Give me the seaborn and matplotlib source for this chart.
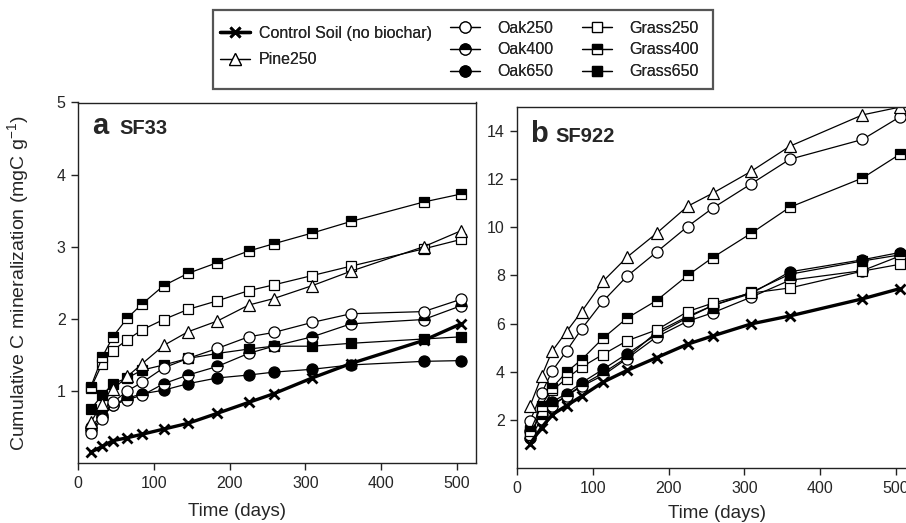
import matplotlib
matplotlib.use("Agg")
import matplotlib.pyplot as plt
import seaborn as sns
import pandas as pd
from matplotlib.lines import Line2D
from matplotlib.patches import Rectangle

sns.set_theme(style="white")
plt.rcParams['font.family'] = ['Liberation Sans', 'DejaVu Sans']
plt.rcParams['mathtext.default'] = 'regular'

# ---------------- data ----------------
times = [17, 32, 46, 65, 85, 113, 145, 184, 225, 258, 309, 360, 456, 505]

series_names = ["Control Soil (no biochar)", "Pine250", "Oak250", "Oak400", "Oak650",
                "Grass250", "Grass400", "Grass650"]

# Panel a: SF33
control_a = [0.15, 0.23, 0.31, 0.35, 0.40, 0.47, 0.55, 0.69, 0.84, 0.96, 1.18, 1.38, 1.70, 1.93]
pine250_a = [0.57, 0.82, 1.02, 1.20, 1.38, 1.63, 1.82, 1.97, 2.19, 2.28, 2.46, 2.66, 3.00, 3.22]
oak250_a = [0.42, 0.61, 0.84, 1.00, 1.12, 1.32, 1.45, 1.59, 1.75, 1.81, 1.95, 2.07, 2.10, 2.27]
oak400_a = [0.46, 0.64, 0.80, 0.88, 0.94, 1.10, 1.22, 1.34, 1.52, 1.62, 1.75, 1.93, 1.99, 2.18]
oak650_a = [0.50, 0.67, 0.81, 0.90, 0.96, 1.01, 1.10, 1.18, 1.22, 1.26, 1.30, 1.36, 1.41, 1.42]
grass250_a = [1.04, 1.38, 1.56, 1.71, 1.85, 1.99, 2.13, 2.25, 2.39, 2.47, 2.60, 2.73, 2.97, 3.10]
grass400_a = [1.06, 1.47, 1.75, 2.01, 2.21, 2.46, 2.63, 2.78, 2.94, 3.04, 3.19, 3.35, 3.62, 3.73]
grass650_a = [0.75, 0.94, 1.10, 1.18, 1.29, 1.36, 1.45, 1.52, 1.58, 1.62, 1.62, 1.66, 1.72, 1.75]

# Panel b: SF922
control_b = [1.02, 1.69, 2.22, 2.60, 2.99, 3.57, 4.06, 4.59, 5.15, 5.49, 5.99, 6.32, 7.03, 7.45]
pine250_b = [2.60, 3.81, 4.86, 5.67, 6.50, 7.75, 8.76, 9.75, 10.87, 11.41, 12.32, 13.36, 14.66, 14.98]
oak250_b = [1.97, 3.11, 4.03, 4.87, 5.78, 6.92, 7.97, 8.97, 10.03, 10.79, 11.80, 12.82, 13.64, 14.57]
oak400_b = [1.25, 2.05, 2.60, 3.00, 3.40, 3.85, 4.55, 5.45, 6.10, 6.45, 7.10, 7.80, 8.20, 8.80]
oak650_b = [1.55, 2.20, 2.75, 3.10, 3.55, 4.10, 4.75, 5.55, 6.25, 6.75, 7.25, 8.15, 8.65, 8.95]
grass250_b = [1.38, 2.36, 3.23, 3.72, 4.20, 4.72, 5.29, 5.74, 6.50, 6.85, 7.27, 7.48, 8.18, 8.46]
grass400_b = [1.55, 2.60, 3.34, 3.99, 4.51, 5.39, 6.23, 6.96, 8.00, 8.74, 9.75, 10.83, 12.04, 13.02]
grass650_b = [1.60, 2.30, 2.65, 3.00, 3.45, 3.95, 4.60, 5.65, 6.30, 6.75, 7.30, 8.05, 8.60, 8.85]

panel_a = [control_a, pine250_a, oak250_a, oak400_a, oak650_a, grass250_a, grass400_a, grass650_a]
panel_b = [control_b, pine250_b, oak250_b, oak400_b, oak650_b, grass250_b, grass400_b, grass650_b]

x_ticks = [0, 100, 200, 300, 400, 500]
y_ticks_a = [1, 2, 3, 4, 5]
y_ticks_b = [2, 4, 6, 8, 10, 12, 14]

# ---------------- styles ----------------
styles = {
    "Control Soil (no biochar)": dict(marker="x", ms=7, mew=2.0, lw=2.4, mfc="black"),
    "Pine250": dict(marker="^", ms=8, mew=0.9, lw=0.9, mfc="white"),
    "Oak250": dict(marker="o", ms=8, mew=0.9, lw=0.9, mfc="white"),
    "Oak400": dict(marker="o", ms=8, mew=0.9, lw=0.9, mfc="black", fillstyle="top"),
    "Oak650": dict(marker="o", ms=8, mew=0.9, lw=0.9, mfc="black"),
    "Grass250": dict(marker="s", ms=7, mew=0.9, lw=0.9, mfc="white"),
    "Grass400": dict(marker="s", ms=7, mew=0.9, lw=0.9, mfc="black", fillstyle="top"),
    "Grass650": dict(marker="s", ms=7, mew=0.9, lw=0.9, mfc="black"),
}

W, H = 906, 523
fig = plt.figure(figsize=(W / 100, H / 100), dpi=100)


def fpos(l, r, b, t):
    return [l / W, 1 - b / H, (r - l) / W, (b - t) / H]


ax_a = fig.add_axes(fpos(78, 476, 463, 102.5))
ax_b = fig.add_axes(fpos(517.3, 914.7, 468.3, 106.7))

draw_order = ["Grass650", "Oak650", "Oak400", "Oak250", "Grass250", "Pine250", "Grass400",
              "Control Soil (no biochar)"]

for ax, data in ((ax_a, panel_a), (ax_b, panel_b)):
    df = pd.DataFrame({"Time": times * len(series_names),
                       "C": [v for s in data for v in s],
                       "Series": [n for n in series_names for _ in times]})
    for name in draw_order:
        st = dict(styles[name])
        sub = df[df["Series"] == name]
        extra = {}
        if "fillstyle" in st:
            extra = dict(fillstyle=st.pop("fillstyle"), markerfacecoloralt="white")
        sns.lineplot(data=sub, x="Time", y="C", ax=ax, color="black",
                     marker=st["marker"], markersize=st["ms"], markeredgewidth=st["mew"],
                     markeredgecolor="black", markerfacecolor=st["mfc"],
                     linewidth=st["lw"], label=name, legend=False, clip_on=True, **extra)
    ax.set_xlim(0, 525)
    ax.set_xticks(x_ticks)
    ax.set_xlabel("")
    ax.set_ylabel("")
    for sp in ax.spines.values():
        sp.set_visible(True)
        sp.set_color("#222222")
        sp.set_linewidth(1.0)
    ax.tick_params(axis="both", direction="out", length=5, width=1, color="#222222",
                   labelsize=11.5, pad=4, bottom=True, left=True)

ax_a.set_ylim(0, 5)
ax_a.set_yticks(y_ticks_a)
ax_b.set_ylim(0, 15)
ax_b.set_yticks(y_ticks_b)

# panel labels
ax_a.text(0.035, 0.914, "a", transform=ax_a.transAxes, fontsize=21, fontweight="bold", va="baseline")
ax_a.text(0.105, 0.914, "SF33", transform=ax_a.transAxes, fontsize=14.5, fontweight="bold", va="baseline")
ax_b.text(0.032, 0.903, "b", transform=ax_b.transAxes, fontsize=21, fontweight="bold", va="baseline")
ax_b.text(0.097, 0.903, "SF922", transform=ax_b.transAxes, fontsize=14.5, fontweight="bold", va="baseline")

# axis labels
fig.text(237 / W, 1 - 512 / H, "Time (days)", ha="center", va="center", fontsize=13.5)
fig.text(717 / W, 1 - 514 / H, "Time (days)", ha="center", va="center", fontsize=13.5)
fig.text(18 / W, 1 - 283 / H, "Cumulative C mineralization (mgC g$^{-1}$)", rotation=90,
         ha="center", va="center", fontsize=14)


# legend (three columns, drawn as three frameless legends inside one box)
def handle(name):
    st = dict(styles[name])
    kw = dict(color="black", marker=st["marker"], markersize=st["ms"], markeredgewidth=st["mew"],
              markeredgecolor="black", markerfacecolor=st["mfc"], linewidth=st["lw"])
    if "fillstyle" in st:
        kw.update(fillstyle=st["fillstyle"], markerfacecoloralt="white")
    return Line2D([], [], **kw)


legend_cols = [
    (["Control Soil (no biochar)", "Pine250"], 220, 46.5, 0.75, 0.6),
    (["Oak250", "Oak400", "Oak650"], 450, 50, 0.42, 1.1),
    (["Grass250", "Grass400", "Grass650"], 582, 50, 0.42, 1.1),
]
for names, x0, yc, lsp, htp in legend_cols:
    lg = fig.legend([handle(n) for n in names], names, loc="center left",
                    bbox_to_anchor=(x0 / W, 1 - yc / H), frameon=False, fontsize=11.5,
                    handlelength=1.85, handletextpad=htp, labelspacing=lsp,
                    borderpad=0, borderaxespad=0)
    fig.add_artist(lg)

fig.patches.append(Rectangle((213 / W, 1 - 89 / H), 500 / W, 79 / H, transform=fig.transFigure,
                             fill=False, edgecolor="#555555", linewidth=1.6))

fig.savefig("out.png", dpi=100)
